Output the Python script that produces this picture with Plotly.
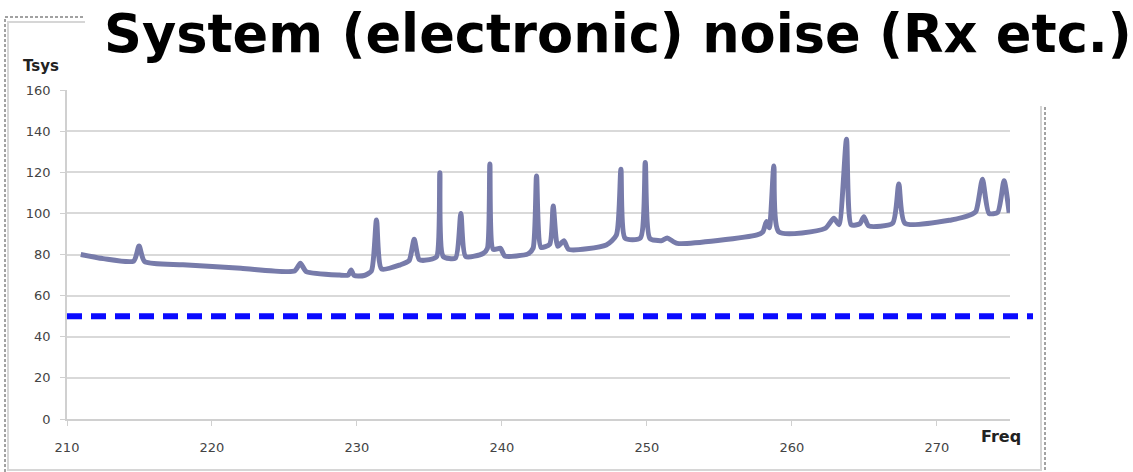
import plotly.graph_objects as go

# ---- data ----
freq = [210.95, 212.5, 214.6, 214.97, 215.35, 218.0, 222.0, 225.7, 226.1, 226.5,
        228.8, 229.4, 229.6, 229.8, 230.5, 231.0, 231.35, 231.7, 233.0, 233.6,
        233.95, 234.3, 235.0, 235.5, 235.72, 235.95, 236.8, 237.17, 237.5, 238.7,
        239.0, 239.17, 239.4, 239.9, 240.2, 241.8, 242.15, 242.39, 242.7, 243.3,
        243.54, 243.85, 244.28, 244.6, 247.2, 247.9, 248.21, 248.5, 249.55, 249.89,
        250.2, 251.0, 251.4, 252.1, 257.6, 258.0, 258.25, 258.45, 258.76, 259.1,
        262.3, 262.9, 263.25, 263.77, 264.1, 264.7, 264.97, 265.3, 266.95, 267.38,
        267.8, 271.0, 272.3, 272.7, 273.15, 273.6, 274.2, 274.64, 274.99]
tsys = [80.0, 78.0, 76.8, 84.1, 76.6, 75.0, 73.3, 72.0, 75.7, 71.7,
        70.0, 70.0, 72.5, 69.8, 69.8, 72.0, 96.8, 73.0, 75.0, 77.0,
        87.4, 77.5, 77.5, 79.0, 119.8, 79.0, 78.3, 100.0, 79.0, 80.5,
        83.0, 124.0, 82.5, 83.0, 79.3, 80.3, 83.0, 118.2, 83.5, 85.0,
        103.6, 84.0, 86.7, 82.5, 84.6, 89.5, 121.4, 87.9, 88.0, 124.7,
        87.9, 86.7, 88.0, 85.4, 89.5, 91.0, 96.0, 93.0, 123.0, 91.0,
        92.7, 97.6, 94.5, 136.0, 94.4, 95.0, 98.4, 93.9, 95.2, 114.3,
        95.2, 96.8, 99.2, 101.0, 116.6, 100.0, 100.5, 115.9, 100.3]
reference_level = 50
x_ticks = [210, 220, 230, 240, 250, 260, 270]
y_ticks = [0, 20, 40, 60, 80, 100, 120, 140, 160]
title_text = "System (electronic) noise (Rx etc.)"
y_title = "Tsys"
x_title = "Freq"

W, H = 1133, 472
L, R, T, B = 67, 1010, 90, 419
pw, ph = R - L, B - T


def px(x):
    return (x - L) / pw


def py(y):
    return (B - y) / ph


fig = go.Figure()
fig.add_trace(go.Scatter(
    x=freq, y=tsys, mode="lines",
    line=dict(color="rgb(119,123,170)", width=5, shape="spline", smoothing=0.6),
    hoverinfo="skip", showlegend=False))

shapes = [
    # dashed blue reference level (extends past the axis end)
    dict(type="line", xref="paper", yref="y", x0=0, x1=px(1033),
         y0=reference_level, y1=reference_level,
         line=dict(color="rgb(10,10,255)", width=6, dash="15px,9px"), layer="above"),
    # light gray frame
    dict(type="rect", xref="paper", yref="paper", x0=px(8), x1=px(1041),
         y0=py(470), y1=py(22), line=dict(color="#d6d6d6", width=2), layer="above"),
    # dashed outer border
    dict(type="rect", xref="paper", yref="paper", x0=px(5), x1=px(1045),
         y0=py(480), y1=py(17), line=dict(color="#444", width=1, dash="3px,2px"),
         layer="above"),
    # white title box covering the top right
    dict(type="rect", xref="paper", yref="paper", x0=px(85), x1=px(1145),
         y0=py(106), y1=py(-5), line=dict(width=0), fillcolor="white", layer="above"),
]

annotations = [
    dict(text=title_text, xref="paper", yref="paper", x=px(102), y=py(34),
         xanchor="left", yanchor="middle", showarrow=False,
         font=dict(family="DejaVu Sans", size=52.6, color="black", weight="bold")),
    dict(text="<b>%s</b>" % y_title, xref="paper", yref="paper", x=px(21), y=py(66),
         xanchor="left", yanchor="middle", showarrow=False,
         font=dict(family="DejaVu Sans", size=15, color="#222")),
    dict(text="<b>%s</b>" % x_title, xref="paper", yref="paper", x=px(979), y=py(436),
         xanchor="left", yanchor="middle", showarrow=False,
         font=dict(family="DejaVu Sans", size=16, color="#222")),
]

fig.update_layout(
    width=W, height=H,
    margin=dict(l=L, r=W - R, t=T, b=H - B, pad=0),
    paper_bgcolor="white", plot_bgcolor="white",
    shapes=shapes, annotations=annotations,
    xaxis=dict(range=[210, 275.05], tickmode="array", tickvals=x_ticks,
               showgrid=False, zeroline=False, showline=True,
               linecolor="#d0d0d0", linewidth=1.5, ticks="outside", ticklen=5,
               tickcolor="#d0d0d0", ticklabelstandoff=11,
               tickfont=dict(family="DejaVu Sans", size=13, color="#444")),
    yaxis=dict(range=[0, 160], tickmode="array", tickvals=y_ticks,
               showgrid=True, gridcolor="#d9d9d9", gridwidth=1.5, zeroline=False,
               showline=True, linecolor="#d0d0d0", linewidth=1.5,
               ticks="outside", ticklen=5, tickcolor="#d0d0d0", ticklabelstandoff=7,
               tickfont=dict(family="DejaVu Sans", size=13, color="#444")),
)

fig.write_html("out.html", config={"displayModeBar": False},
               post_script="document.body.style.margin='0';document.body.style.overflow='hidden';")
